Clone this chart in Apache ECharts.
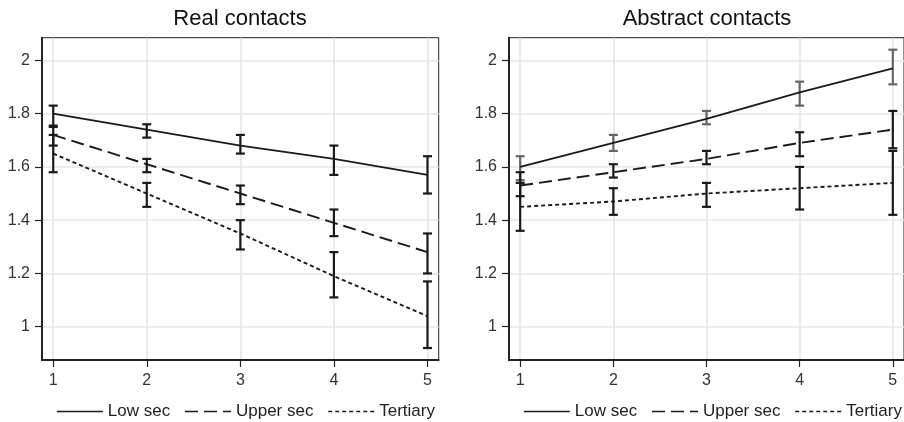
<!DOCTYPE html>
<html>
<head>
<meta charset="utf-8">
<script src="https://cdn.jsdelivr.net/npm/echarts@6/dist/echarts.min.js"></script>
<style>
  html, body { margin: 0; padding: 0; background: #fff; }
  #chart { width: 904px; height: 422px; }
</style>
</head>
<body>
<div id="chart"></div>
<script>
// x categories (education group measured at 5 points)
const xValues = [1, 2, 3, 4, 5];
const xTicks = [1, 2, 3, 4, 5];
const yTicks = [1, 1.2, 1.4, 1.6, 1.8, 2];
const seriesNames = ['Low sec', 'Upper sec', 'Tertiary'];

// Real contacts
const realLow = [1.80, 1.74, 1.68, 1.63, 1.57];
const realLowLo = [1.755, 1.71, 1.65, 1.57, 1.50];
const realLowHi = [1.83, 1.76, 1.72, 1.68, 1.64];
const realUpper = [1.72, 1.61, 1.50, 1.39, 1.28];
const realUpperLo = [1.68, 1.58, 1.46, 1.34, 1.20];
const realUpperHi = [1.75, 1.63, 1.53, 1.44, 1.35];
const realTert = [1.65, 1.50, 1.35, 1.19, 1.04];
const realTertLo = [1.58, 1.45, 1.29, 1.11, 0.92];
const realTertHi = [1.72, 1.54, 1.40, 1.28, 1.17];

// Abstract contacts
const absLow = [1.60, 1.69, 1.78, 1.88, 1.97];
const absLowLo = [1.55, 1.66, 1.76, 1.83, 1.91];
const absLowHi = [1.64, 1.72, 1.81, 1.92, 2.04];
const absUpper = [1.53, 1.58, 1.63, 1.69, 1.74];
const absUpperLo = [1.49, 1.56, 1.61, 1.64, 1.67];
const absUpperHi = [1.58, 1.61, 1.66, 1.73, 1.81];
const absTert = [1.45, 1.47, 1.50, 1.52, 1.54];
const absTertLo = [1.36, 1.42, 1.45, 1.44, 1.42];
const absTertHi = [1.54, 1.52, 1.54, 1.60, 1.66];

const FONT = '"Liberation Sans", Arial, sans-serif';
const INK = '#1a1a1a';
const dashTypes = ['solid', [13, 6], [4, 3]];

function pairs(ys) { return xValues.map((x, i) => [x, ys[i]]); }
function ranges(lo, hi) { return xValues.map((x, i) => [x, lo[i], hi[i]]); }

function errorBar(params, api) {
  const x = api.value(0);
  const top = api.coord([x, api.value(2)]);
  const bot = api.coord([x, api.value(1)]);
  const hw = 4.5;
  const style = { stroke: api.visual('color'), lineWidth: 2.2 };
  return {
    type: 'group',
    children: [
      { type: 'line', shape: { x1: top[0], y1: top[1], x2: bot[0], y2: bot[1] }, style: style },
      { type: 'line', shape: { x1: top[0] - hw, y1: top[1], x2: top[0] + hw, y2: top[1] }, style: style },
      { type: 'line', shape: { x1: bot[0] - hw, y1: bot[1], x2: bot[0] + hw, y2: bot[1] }, style: style }
    ]
  };
}

function lineSeries(name, ys, idx, i) {
  return {
    name: name, type: 'line', xAxisIndex: idx, yAxisIndex: idx,
    data: pairs(ys), symbol: 'none', silent: true,
    lineStyle: { color: INK, width: 1.9, type: dashTypes[i] },
    itemStyle: { color: INK }
  };
}

function barSeries(lo, hi, idx, color) {
  return {
    type: 'custom', xAxisIndex: idx, yAxisIndex: idx,
    data: ranges(lo, hi), renderItem: errorBar,
    itemStyle: { color: color }, silent: true, z: 3
  };
}

function xAxisFor(idx) {
  return {
    type: 'value', gridIndex: idx, min: 0.88, max: 5.12,
    axisLine: { lineStyle: { color: '#222', width: 2 } },
    axisTick: { length: 7, customValues: xTicks, lineStyle: { color: '#222', width: 1.2 } },
    axisLabel: { customValues: xTicks, margin: 13, fontSize: 16, color: '#333', fontFamily: FONT },
    splitLine: { show: true, lineStyle: { color: '#e6e6e6', width: 1.6 } }
  };
}

function yAxisFor(idx) {
  return {
    type: 'value', gridIndex: idx, min: 0.875, max: 2.085,
    axisLine: { show: true, lineStyle: { color: '#222', width: 2 } },
    axisTick: { show: true, length: 7, customValues: yTicks, lineStyle: { color: '#222', width: 1.2 } },
    axisLabel: { customValues: yTicks, margin: 12, fontSize: 16, color: '#333', fontFamily: FONT },
    splitLine: { show: true, lineStyle: { color: '#e6e6e6', width: 1.6 } }
  };
}

function legendAt(left) {
  return {
    left: left, top: 403, width: 460, padding: 0,
    itemWidth: 46, itemHeight: 14, itemGap: 14,
    data: seriesNames, selectedMode: false,
    itemStyle: { opacity: 0 },
    lineStyle: { width: 1.6 },
    textStyle: { fontSize: 17, color: '#222', fontFamily: FONT }
  };
}

const chart = echarts.init(document.getElementById('chart'), null, { renderer: 'canvas' });
chart.setOption({
  animation: false,
  backgroundColor: '#fff',
  graphic: [
    { type: 'text', x: 240, y: 19, style: { text: 'Real contacts', font: '22px ' + FONT, fill: '#111', align: 'center', verticalAlign: 'middle', textAlign: 'center', textVerticalAlign: 'middle' } },
    { type: 'text', x: 707, y: 19, style: { text: 'Abstract contacts', font: '22px ' + FONT, fill: '#111', align: 'center', verticalAlign: 'middle', textAlign: 'center', textVerticalAlign: 'middle' } }
  ],
  legend: [legendAt(56), legendAt(523)],
  grid: [
    { left: 42, top: 37.7, width: 396.7, height: 322.3, show: true, borderColor: '#222', borderWidth: 1 },
    { left: 509, top: 37.7, width: 396.7, height: 322.3, show: true, borderColor: '#222', borderWidth: 1 }
  ],
  xAxis: [xAxisFor(0), xAxisFor(1)],
  yAxis: [yAxisFor(0), yAxisFor(1)],
  series: [
    lineSeries('Low sec', realLow, 0, 0),
    lineSeries('Upper sec', realUpper, 0, 1),
    lineSeries('Tertiary', realTert, 0, 2),
    lineSeries('Low sec', absLow, 1, 0),
    lineSeries('Upper sec', absUpper, 1, 1),
    lineSeries('Tertiary', absTert, 1, 2),
    barSeries(realLowLo, realLowHi, 0, INK),
    barSeries(realUpperLo, realUpperHi, 0, INK),
    barSeries(realTertLo, realTertHi, 0, INK),
    barSeries(absLowLo, absLowHi, 1, '#666'),
    barSeries(absUpperLo, absUpperHi, 1, INK),
    barSeries(absTertLo, absTertHi, 1, INK)
  ]
});
</script>
</body>
</html>
